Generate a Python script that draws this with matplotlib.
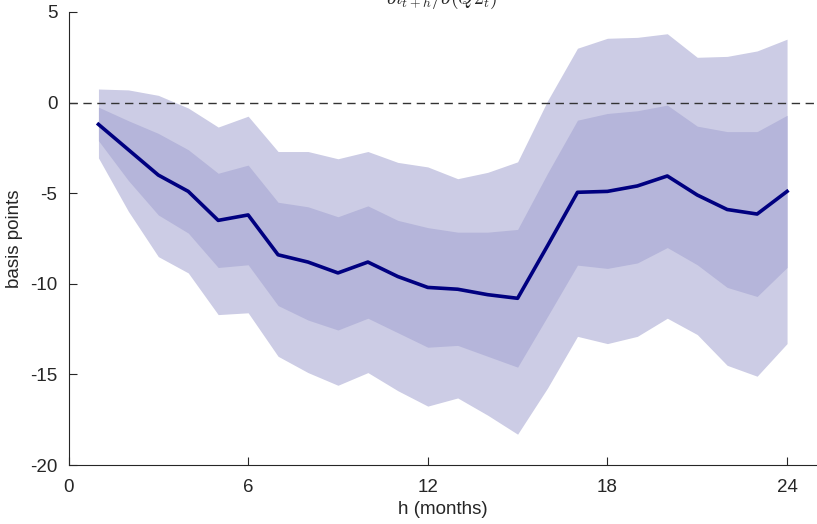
import matplotlib.pyplot as plt

plt.rcParams['font.family'] = ['Liberation Sans', 'DejaVu Sans']
plt.rcParams['mathtext.fontset'] = 'cm'

h = list(range(1, 25))
irf = [-1.2, -2.6, -4.0, -4.9, -6.5, -6.2, -8.4, -8.8, -9.4, -8.8, -9.6, -10.2,
       -10.3, -10.6, -10.8, -7.9, -4.95, -4.9, -4.6, -4.05, -5.1, -5.9, -6.15, -4.9]
in_hi = [-0.25, -1.0, -1.7, -2.6, -3.9, -3.45, -5.5, -5.75, -6.3, -5.7, -6.5, -6.9,
         -7.15, -7.15, -7.0, -3.9, -0.97, -0.6, -0.45, -0.14, -1.3, -1.6, -1.6, -0.7]
in_lo = [-2.1, -4.3, -6.2, -7.2, -9.1, -8.95, -11.2, -12.0, -12.55, -11.9, -12.7, -13.5,
         -13.4, -14.0, -14.6, -11.8, -8.97, -9.15, -8.85, -8.0, -8.95, -10.2, -10.7, -9.1]
out_hi = [0.75, 0.7, 0.4, -0.3, -1.35, -0.75, -2.7, -2.7, -3.1, -2.7, -3.3, -3.55,
          -4.2, -3.85, -3.27, 0.1, 3.0, 3.55, 3.6, 3.8, 2.5, 2.55, 2.85, 3.5]
out_lo = [-3.05, -6.0, -8.5, -9.4, -11.7, -11.6, -14.0, -14.9, -15.6, -14.9, -15.9, -16.75,
          -16.3, -17.25, -18.3, -15.75, -12.9, -13.3, -12.9, -11.9, -12.8, -14.5, -15.1, -13.3]

fig = plt.figure(figsize=(8.17, 5.24), dpi=100)
ax = fig.add_axes([68.5 / 817, 1 - 465 / 524, 1 - 68.5 / 817, (465 - 12) / 524])

ax.fill_between(h, out_lo, out_hi, color='#ccccE5', lw=0)
ax.fill_between(h, in_lo, in_hi, color='#b5b5da', lw=0)
ax.plot(h, irf, color='#000080', lw=2.6)
ax.axhline(0, color='#333333', ls=(0, (6, 4)), lw=1)

ax.set_xlim(0, 25)
ax.set_ylim(-20, 5)
ax.set_xticks([0, 6, 12, 18, 24])
ax.set_yticks([5, 0, -5, -10, -15, -20])
ax.set_yticklabels(['5', '0', '-5', '-10', '-15', '-20'])
ax.tick_params(direction='in', length=6, width=0.8, colors='#262626', labelsize=13.5)
ax.tick_params(axis='x', pad=10)
ax.tick_params(axis='y', pad=8)
ax.spines['top'].set_visible(False)
ax.spines['right'].set_visible(False)
for s in ['left', 'bottom']:
    ax.spines[s].set_color('#262626')
    ax.spines[s].set_linewidth(0.8)

ax.set_xlabel('h (months)', fontsize=13.5, color='#262626', labelpad=4)
ax.set_ylabel('basis points', fontsize=13.5, color='#262626', labelpad=5)

fig.text(442 / 817, 1 - 4 / 524, r'$\partial i_{t+h}/\partial(Q2_t)$', ha='center',
         va='baseline', fontsize=14, color='#262626')

fig.savefig('out.png', dpi=100)
